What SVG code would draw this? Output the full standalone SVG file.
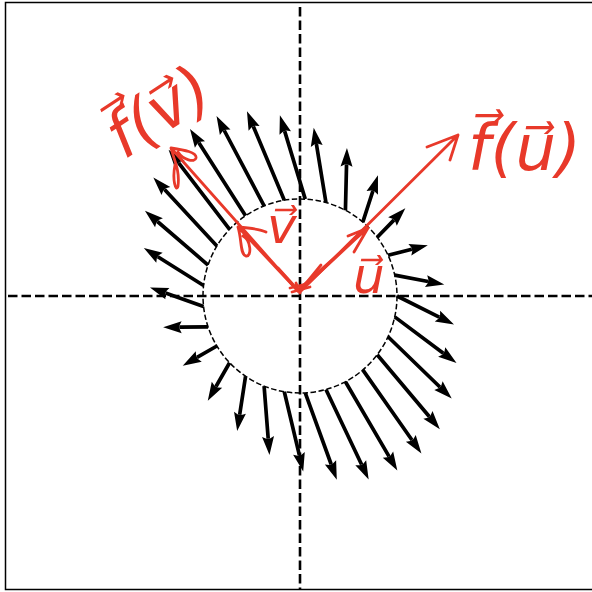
<svg xmlns="http://www.w3.org/2000/svg" width="592" height="592" viewBox="0 0 592 592">
<style>
.frame{fill:none;stroke:#000;stroke-width:1.5}
.axis{fill:none;stroke:#000;stroke-width:2.6;stroke-dasharray:9.5 4}
.circ{fill:none;stroke:#000;stroke-width:1.5;stroke-dasharray:5.5 2.5}
.q{fill:none;stroke:#000;stroke-width:3.7;stroke-dasharray:0 16.5 1000;marker-start:url(#head)}
.red{fill:none;stroke:#e8392a;stroke-width:2.8;stroke-linecap:round;stroke-linejoin:round}
.lbl{fill:#e8392a;font-family:"DejaVu Sans",sans-serif;font-style:italic}
</style>
<defs>
<marker id="head" markerUnits="userSpaceOnUse" viewBox="-20 -7 21 14" markerWidth="21" markerHeight="14" refX="0" refY="0" orient="auto-start-reverse" overflow="visible">
<path d="M0,0 L-18.5,-6 L-16.5,-1.85 L-16.5,1.85 L-18.5,6 Z" fill="#000"/>
</marker>
</defs>
<rect width="592" height="592" fill="#fff"/>
<rect class="frame" x="5.5" y="2.5" width="600" height="587"/>
<g id="axes">
<line class="axis" x1="300" y1="7" x2="300" y2="590"/>
<line class="axis" x1="8" y1="296" x2="592" y2="296"/>
</g>
<g id="unit-circle">
<circle class="circ" cx="300" cy="296" r="97"/>
</g>
<g id="arrows">
<path class="q" d="M454,324.5 L397,296"/>
<path class="q" d="M444.27,284.59 L394.73,275.14"/>
<path class="q" d="M427.81,245.24 L388.04,255.27"/>
<path class="q" d="M405.35,208.24 L377.22,237.30"/>
<path class="q" d="M377.98,175.35 L362.80,222.07"/>
<path class="q" d="M346.95,148.11 L345.43,210.30"/>
<path class="q" d="M313.73,127.77 L325.95,202.53"/>
<path class="q" d="M279.88,115.32 L305.25,199.15"/>
<path class="q" d="M246.96,111.30 L284.31,200.28"/>
<path class="q" d="M216.53,115.91 L264.10,205.89"/>
<path class="q" d="M189.98,128.95 L245.56,215.71"/>
<path class="q" d="M168.60,149.80 L229.58,229.29"/>
<path class="q" d="M153.34,177.48 L216.88,245.99"/>
<path class="q" d="M144.95,210.72 L208.07,265.03"/>
<path class="q" d="M143.83,247.94 L203.57,285.51"/>
<path class="q" d="M149.99,287.40 L203.57,306.49"/>
<path class="q" d="M163.15,327.26 L208.07,326.97"/>
<path class="q" d="M182.73,365.67 L216.88,346.01"/>
<path class="q" d="M207.80,400.82 L229.58,362.71"/>
<path class="q" d="M237.16,431.06 L245.56,376.29"/>
<path class="q" d="M269.48,454.99 L264.10,386.11"/>
<path class="q" d="M303.21,471.48 L284.31,391.72"/>
<path class="q" d="M336.79,479.76 L305.25,392.85"/>
<path class="q" d="M368.66,479.48 L325.95,389.47"/>
<path class="q" d="M397.31,470.59 L345.43,381.70"/>
<path class="q" d="M421.42,453.55 L362.80,369.93"/>
<path class="q" d="M439.85,429.13 L377.22,354.70"/>
<path class="q" d="M451.74,398.50 L388.04,336.73"/>
<path class="q" d="M456.52,363.08 L394.73,316.86"/>
</g>
<g id="annotations">
<path class="red" d="M298,291 L171,148 M171,148 C184,150 197,152 196,158 C195,163 183,160 178,152 M171,148 C174,160 180,170 178,186 C176,193 172,180 175,165"/>
<path class="red" d="M298,291 L238,227 M238,227 C250,228 260,229 266,232 M238,227 C242,240 240,255 246,256 C252,257 251,240 243,236"/>
<path class="red" d="M300,292 L458,135 M427,147 L458,135 L450,160"/>
<path class="red" d="M298,290 L368,228 M302,289 L362,233 M348,236 L368,228 L354,252"/>
<path class="red" d="M278,268 L298,290 M321,265 L303,287 M290,288 L306,284 M292,292 L310,287 M296,283 L300,293"/>
<text class="lbl" font-size="64" transform="translate(124,160) rotate(-33)">f⃗(v⃗)</text>
<text class="lbl" font-size="64" x="468" y="170">f⃗(u⃗)</text>
<text class="lbl" font-size="50" x="267" y="243">v⃗</text>
<text class="lbl" font-size="50" x="353" y="293">u⃗</text>
</g>
</svg>
